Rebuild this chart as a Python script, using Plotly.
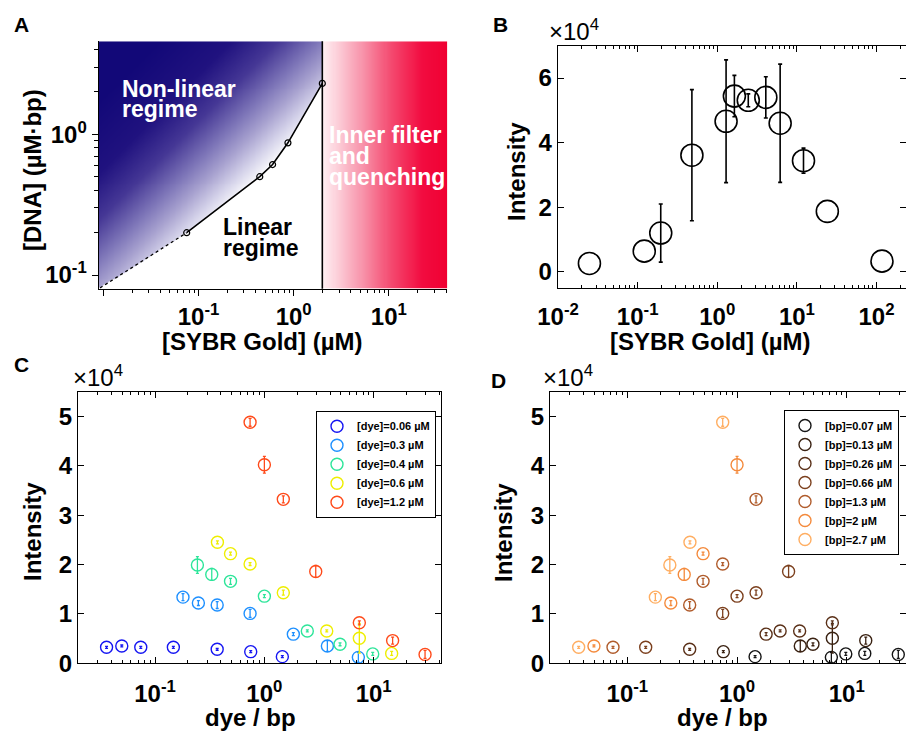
import numpy as np
import plotly.graph_objects as go

W, H = 906, 732
FONT = "Liberation Sans"

# ---------------- Panel A data ----------------
A_SYBR = [0.075, 0.44, 0.6, 0.87, 2.0]          # µM
A_DNA = [0.2, 0.5, 0.61, 0.87, 2.3]             # µM·bp
A_EXTRAP_SYBR = [0.0092, 0.075]
A_EXTRAP_DNA = [0.081, 0.2]
A_LIMIT = 2.0                                    # inner-filter limit (µM)

# ---------------- Panel B data ----------------
B_SYBR = [0.0248, 0.121, 0.195, 0.48, 1.29, 1.64, 2.45, 4.07, 6.16, 12.1, 24.1, 117]
B_INT = [2600, 6400, 12000, 36100, 46600, 54400, 53100, 54000, 46000, 34400, 18700, 3300]
B_ERR = [0, 0, 9000, 20300, 19000, 6400, 2000, 6400, 18300, 3900, 0, 0]

# ---------------- Panels C / D data ----------------
DYE_LABELS = ["0.06", "0.3", "0.4", "0.6", "1.2"]
BP_LABELS = ["0.07", "0.13", "0.26", "0.66", "1.3", "2", "2.7"]
# rows: dye concentration, columns: bp concentration
RATIO = [
    [1.46, 0.75, 0.37, 0.147, 0.074, 0.0496, 0.036],
    [7.24, 3.77, 1.84, 0.74, 0.37, 0.249, 0.18],
    [9.8, 4.92, 2.47, 1.0, 0.49, 0.33, 0.244],
    [14.6, 7.39, 3.72, 1.49, 0.74, 0.49, 0.372],
    [29.5, 14.9, 7.39, 2.95, 1.49, 1.0, 0.74],
]
INTENS = [
    [1350, 2360, 2840, 3240, 3240, 3510, 3240],
    [1200, 3500, 5900, 10100, 11800, 12200, 13400],
    [1900, 3850, 6550, 13600, 16600, 18000, 19900],
    [2000, 5070, 6550, 14300, 20100, 22200, 24500],
    [1800, 4600, 8200, 18600, 33200, 40200, 48800],
]
ERRS = [
    [200, 200, 200, 200, 200, 200, 200],
    [1000, 1100, 300, 800, 700, 500, 700],
    [300, 300, 200, 300, 600, 1200, 1700],
    [400, 3000, 200, 500, 300, 300, 300],
    [800, 700, 400, 1200, 700, 1700, 800],
]
DYE_COLORS = ["#1616f2", "#1e90ff", "#2ee59a", "#eeee00", "#ff4a1a"]
BP_COLORS = ["#151515", "#3a2212", "#5a3018", "#7c401e", "#b05c2c", "#f48a3c", "#ffae62"]


def px_x(p):
    return p / W


def px_y(p):
    return 1 - p / H


fig = go.Figure()

# ---------------- Panel A background gradients ----------------
lx0, lx1 = -2.05, 1.615
ly0, ly1 = -1.097, 0.661
nxb, ny = 260, 250
xe_b = np.logspace(lx0, np.log10(A_LIMIT), nxb + 1)
ye = np.logspace(ly0, ly1, ny + 1)
xc = np.sqrt(xe_b[:-1] * xe_b[1:])
yc = np.sqrt(ye[:-1] * ye[1:])
LX, LY = np.meshgrid(np.log10(xc), np.log10(yc))
bx = np.log10([A_EXTRAP_SYBR[0]] + A_SYBR)
by = np.log10([A_EXTRAP_DNA[0]] + A_DNA)
curve = np.interp(LX, bx, by)
s = (LX - lx0) / (lx1 - lx0) * 348 + (ly1 - LY) / (ly1 - ly0) * 248
zb = np.clip((s - 60) / 240, 0, 1)
zb[LY < curve] = np.nan
fig.add_trace(go.Heatmap(
    x=xe_b, y=ye, z=zb, zmin=0, zmax=1, showscale=False, hoverinfo="skip",
    colorscale=[[0, "#120878"], [0.3, "#20127f"], [0.5, "#463896"], [0.67, "#8078ba"],
                [0.78, "#a8a2d0"], [0.89, "#d4d2ea"], [1, "#ffffff"]],
    xaxis="x", yaxis="y"))

nxr = 120
xe_r = np.logspace(np.log10(A_LIMIT), lx1, nxr + 1)
xcr = np.sqrt(xe_r[:-1] * xe_r[1:])
LXR, _ = np.meshgrid(np.log10(xcr), np.log10(yc))
zr = (LXR - np.log10(A_LIMIT)) / (lx1 - np.log10(A_LIMIT))
fig.add_trace(go.Heatmap(
    x=xe_r, y=ye, z=zr, zmin=0, zmax=1, showscale=False, hoverinfo="skip",
    colorscale=[[0, "#fff2f5"], [0.3, "#f89ab0"], [0.55, "#f44a70"], [0.8, "#f20c40"], [1, "#f00032"]],
    xaxis="x", yaxis="y"))

fig.add_trace(go.Scatter(x=A_EXTRAP_SYBR, y=A_EXTRAP_DNA, mode="lines",
                         line=dict(color="black", width=1.3, dash="dot"),
                         showlegend=False, xaxis="x", yaxis="y"))
fig.add_trace(go.Scatter(x=A_SYBR, y=A_DNA, mode="lines+markers",
                         line=dict(color="black", width=1.6),
                         marker=dict(symbol="circle-open", size=6, color="black", line=dict(width=1.2)),
                         showlegend=False, xaxis="x", yaxis="y"))
fig.add_shape(type="line", xref="x", yref="y domain", x0=A_LIMIT, x1=A_LIMIT, y0=0, y1=1,
              line=dict(color="black", width=1.6))

# ---------------- Panel B ----------------
has_err = [k for k, e in enumerate(B_ERR) if e > 0]
fig.add_trace(go.Scatter(
    x=[B_SYBR[k] for k in has_err], y=[B_INT[k] for k in has_err], mode="markers",
    marker=dict(size=1, color="rgba(0,0,0,0)"),
    error_y=dict(type="data", array=[B_ERR[k] for k in has_err], color="black", thickness=1.6, width=2),
    showlegend=False, hoverinfo="skip", xaxis="x2", yaxis="y2"))
fig.add_trace(go.Scatter(
    x=B_SYBR, y=B_INT, mode="markers",
    marker=dict(symbol="circle-open", size=22, color="black", line=dict(width=1.6)),
    showlegend=False, xaxis="x2", yaxis="y2"))

# ---------------- Panel C ----------------
for i, lab in enumerate(DYE_LABELS):
    fig.add_trace(go.Scatter(
        x=RATIO[i], y=INTENS[i], mode="markers", name=f"[dye]={lab} µM",
        marker=dict(symbol="circle-open", size=12, color=DYE_COLORS[i], line=dict(width=1.4)),
        error_y=dict(type="data", array=ERRS[i], color=DYE_COLORS[i], thickness=1.3, width=1.5),
        legend="legend", xaxis="x3", yaxis="y3"))

# ---------------- Panel D ----------------
for j, lab in enumerate(BP_LABELS):
    fig.add_trace(go.Scatter(
        x=[RATIO[i][j] for i in range(len(DYE_LABELS))],
        y=[INTENS[i][j] for i in range(len(DYE_LABELS))],
        mode="markers", name=f"[bp]={lab} µM",
        marker=dict(symbol="circle-open", size=12, color=BP_COLORS[j], line=dict(width=1.4)),
        error_y=dict(type="data", array=[ERRS[i][j] for i in range(len(DYE_LABELS))],
                     color=BP_COLORS[j], thickness=1.3, width=1.5),
        legend="legend2", xaxis="x4", yaxis="y4"))

# ---------------- Axes ----------------
TICKFONT = dict(family=FONT, size=24, color="black", weight="bold")


def sup(k):
    return f"10<sup>{k}</sup>"


def minor_vals(lo, hi):
    out = []
    for e in range(lo, hi + 1):
        for m in range(2, 10):
            out.append(m * 10.0 ** e)
    return out


common = dict(showgrid=False, zeroline=False, showline=True, linecolor="black", linewidth=1.3,
              tickcolor="black", tickwidth=1.2, tickfont=TICKFONT)

layout_axes = dict(
    xaxis=dict(common, type="log", domain=[px_x(98.7), px_x(447.3)], range=[lx0, lx1], anchor="y",
               ticks="outside", ticklen=6, tickmode="array",
               tickvals=[0.01, 0.1, 1, 10], ticktext=["", sup(-1), sup(0), sup(1)],
               minor=dict(ticks="outside", ticklen=3.5, tickcolor="black", tickwidth=1.1,
                          tickmode="array", tickvals=minor_vals(-2, 1), showgrid=False)),
    yaxis=dict(common, type="log", domain=[px_y(288.7), px_y(41.3)], range=[ly0, ly1], anchor="x",
               ticks="outside", ticklen=6, tickmode="array",
               tickvals=[0.1, 1], ticktext=[sup(-1), sup(0)],
               minor=dict(ticks="outside", ticklen=3.5, tickcolor="black", tickwidth=1.1,
                          tickmode="array", tickvals=minor_vals(-1, 0), showgrid=False)),
    xaxis2=dict(common, type="log", domain=[px_x(557.7), 1.0], range=[-2.004, 2.37], anchor="y2",
                ticks="inside", ticklen=6, mirror="ticks", tickmode="array",
                tickvals=[0.01, 0.1, 1, 10, 100], ticktext=[sup(-2), sup(-1), sup(0), sup(1), sup(2)],
                ticklabelstandoff=7,
                minor=dict(ticks="inside", ticklen=3.5, tickcolor="black", tickwidth=1.1,
                           tickmode="array", tickvals=minor_vals(-2, 2), showgrid=False)),
    yaxis2=dict(common, domain=[px_y(288.3), px_y(45.7)], range=[-5100, 70000], anchor="x2",
                ticks="inside", ticklen=6, mirror="ticks", tickmode="array",
                tickvals=[0, 20000, 40000, 60000], ticktext=["0", "2", "4", "6"]),
    xaxis3=dict(common, type="log", domain=[px_x(78), px_x(440.7)], range=[-1.705, 1.613], anchor="y3",
                ticks="inside", ticklen=6, mirror="ticks", tickmode="array",
                tickvals=[0.1, 1, 10], ticktext=[sup(-1), sup(0), sup(1)],
                ticklabelstandoff=9,
                minor=dict(ticks="inside", ticklen=3.5, tickcolor="black", tickwidth=1.1,
                           tickmode="array", tickvals=minor_vals(-2, 1), showgrid=False)),
    yaxis3=dict(common, domain=[px_y(663.3), px_y(391.7)], range=[0, 55000], anchor="x3",
                ticks="inside", ticklen=6, mirror="ticks", tickmode="array",
                tickvals=[0, 10000, 20000, 30000, 40000, 50000], ticktext=["0", "1", "2", "3", "4", "5"]),
    xaxis4=dict(common, type="log", domain=[px_x(550), 1.0], range=[-1.705, 1.54], anchor="y4",
                ticks="inside", ticklen=6, mirror="ticks", tickmode="array",
                tickvals=[0.1, 1, 10], ticktext=[sup(-1), sup(0), sup(1)],
                ticklabelstandoff=9,
                minor=dict(ticks="inside", ticklen=3.5, tickcolor="black", tickwidth=1.1,
                           tickmode="array", tickvals=minor_vals(-2, 1), showgrid=False)),
    yaxis4=dict(common, domain=[px_y(663.3), px_y(391.7)], range=[0, 55000], anchor="x4",
                ticks="inside", ticklen=6, mirror="ticks", tickmode="array",
                tickvals=[0, 10000, 20000, 30000, 40000, 50000], ticktext=["0", "1", "2", "3", "4", "5"]),
)

# ---------------- Annotations ----------------
anns = []


def ann(text, x, y, size, color="black", bold=True, angle=0, xanchor="center", yanchor="middle"):
    anns.append(dict(text=text, x=px_x(x), y=px_y(y), xref="paper", yref="paper",
                     showarrow=False, textangle=angle, xanchor=xanchor, yanchor=yanchor,
                     font=dict(family=FONT, size=size, color=color,
                               weight="bold" if bold else "normal")))


# panel letters
ann("A", 21, 25, 21)
ann("B", 500, 25, 21)
ann("C", 21, 364, 21)
ann("D", 498, 380, 21)

# axis titles
ann("[DNA] (µM·bp)", 32, 170, 24, angle=-90)
ann("[SYBR Gold] (µM)", 262, 341, 24)
ann("Intensity", 516, 172, 24, angle=-90)
ann("[SYBR Gold] (µM)", 710, 341, 24)
ann("Intensity", 32, 532, 24, angle=-90)
ann("dye / bp", 250, 717, 24)
ann("Intensity", 503, 532, 24, angle=-90)
ann("dye / bp", 722, 717, 24)

# scale multipliers
ann("×10<sup>4</sup>", 547, 30, 24, bold=False, xanchor="left")
ann("×10<sup>4</sup>", 71, 376, 24, bold=False, xanchor="left")
ann("×10<sup>4</sup>", 541, 376, 24, bold=False, xanchor="left")

# region labels in panel A
ann("Non-linear", 120, 89, 23, color="white", xanchor="left")
ann("regime", 120, 109, 23, color="white", xanchor="left")
ann("Linear", 220.5, 227, 23, xanchor="left")
ann("regime", 220.5, 248, 23, xanchor="left")
ann("Inner filter", 326.5, 135, 23, color="white", xanchor="left")
ann("and", 326.5, 156, 23, color="white", xanchor="left")
ann("quenching", 326.5, 177, 23, color="white", xanchor="left")

LEGFONT = dict(family=FONT, size=11, color="black", weight="bold")

fig.update_layout(
    width=W, height=H,
    margin=dict(l=0, r=0, t=0, b=0, autoexpand=False),
    paper_bgcolor="white", plot_bgcolor="white",
    font=dict(family=FONT, color="black"),
    annotations=anns,
    legend=dict(x=px_x(316), y=px_y(410.7), xanchor="left", yanchor="top",
                bordercolor="black", borderwidth=1, bgcolor="white", font=LEGFONT,
                tracegroupgap=0, itemwidth=30),
    legend2=dict(x=px_x(784), y=px_y(410), xanchor="left", yanchor="top",
                 bordercolor="black", borderwidth=1, bgcolor="white", font=LEGFONT,
                 tracegroupgap=0, itemwidth=30),
    **layout_axes,
)

fig.write_html("out.html", config={"displayModeBar": False},
               post_script="document.body.style.margin='0';document.body.style.overflow='hidden';")
